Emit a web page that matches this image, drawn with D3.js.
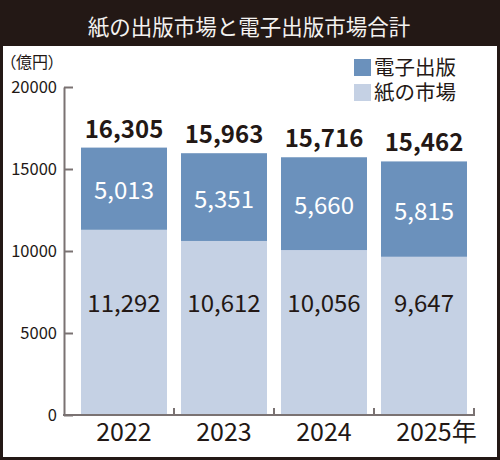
<!DOCTYPE html>
<html><head><meta charset="utf-8">
<script src="https://cdn.jsdelivr.net/npm/d3@7"></script>
<style>
body{margin:0;background:#fff;}
svg{display:block;font-family:"Noto Sans CJK JP","Noto Sans",sans-serif;}
</style></head>
<body>
<svg id="c" width="500" height="460"></svg>
<script>
const title = "紙の出版市場と電子出版市場合計";
const unitLabel = "（億円）";
const years = ["2022","2023","2024","2025"];
const yearSuffix = "年";
const paper = [11292, 10612, 10056, 9647];
const digital = [5013, 5351, 5660, 5815];
const totals = [16305, 15963, 15716, 15462];
const yTicks = [0, 5000, 10000, 15000, 20000];
const seriesNames = ["電子出版", "紙の市場"];

const ink = "#231815", cDigital = "#6b91bc", cPaper = "#c5d1e4", axisGray = "#7a7272";
const svg = d3.select("#c");

// frame and title bar
svg.append("rect").attr("x",0).attr("y",0).attr("width",500).attr("height",46).attr("fill",ink);
svg.append("rect").attr("x",1.5).attr("y",1.5).attr("width",497).attr("height",457)
  .attr("fill","none").attr("stroke",ink).attr("stroke-width",3);
svg.append("text").attr("x",249).attr("y",25).attr("text-anchor","middle")
  .attr("dominant-baseline","central").attr("fill","#f4f2f0").attr("font-size",21.5).text(title);

const y = d3.scaleLinear().domain([0,20000]).range([415,87]);
const x = d3.scaleBand().domain(years).range([74,474]).paddingInner(0.14).paddingOuter(0.07);

// y axis
const yAxis = svg.append("g").attr("transform","translate(64,0)")
  .call(d3.axisLeft(y).tickValues(yTicks).tickSizeInner(-9).tickSizeOuter(0).tickPadding(7).tickFormat(d3.format("d")));
yAxis.select(".domain").attr("stroke",axisGray).attr("stroke-width",2);
yAxis.selectAll(".tick line").attr("stroke",axisGray).attr("stroke-width",2);
yAxis.selectAll(".tick text").attr("fill",ink).attr("font-size",16.5).attr("font-family","Noto Sans CJK JP");

svg.append("text").attr("x",8).attr("y",68).attr("fill",ink).attr("font-size",16)
  .style("font-feature-settings","'palt'").text(unitLabel);

// stacked bars
const data = years.map((yr,i)=>({yr, paper:paper[i], digital:digital[i], total:totals[i]}));
const g = svg.append("g");
g.selectAll("rect.p").data(data).join("rect").attr("class","p")
  .attr("x",d=>x(d.yr)).attr("width",x.bandwidth())
  .attr("y",d=>y(d.paper)).attr("height",d=>y(0)-y(d.paper)).attr("fill",cPaper);
g.selectAll("rect.d").data(data).join("rect").attr("class","d")
  .attr("x",d=>x(d.yr)).attr("width",x.bandwidth())
  .attr("y",d=>y(d.paper+d.digital)).attr("height",d=>y(d.paper)-y(d.paper+d.digital)).attr("fill",cDigital);

const fmt = d3.format(",");
const cx = d => x(d.yr)+x.bandwidth()/2;
g.selectAll("text.tot").data(data).join("text").attr("class","tot")
  .attr("x",cx).attr("y",d=>y(d.total)-10).attr("text-anchor","middle")
  .attr("font-weight","bold").attr("font-size",24).attr("fill",ink).text(d=>fmt(d.total));
g.selectAll("text.dl").data(data).join("text").attr("class","dl")
  .attr("x",cx).attr("y",d=>y(d.paper+d.digital/2)).attr("text-anchor","middle")
  .attr("dominant-baseline","central").attr("font-size",24).attr("fill","#fff").text(d=>fmt(d.digital));
g.selectAll("text.pl").data(data).join("text").attr("class","pl")
  .attr("x",cx).attr("y",y(6900)).attr("text-anchor","middle")
  .attr("dominant-baseline","central").attr("font-size",24).attr("fill",ink).text(d=>fmt(d.paper));

// x axis
const half = x.step()*x.paddingInner()/2;
svg.append("line").attr("x1",63).attr("x2",x(years[years.length-1])+x.bandwidth()+half+1)
  .attr("y1",y(0)).attr("y2",y(0)).attr("stroke",axisGray).attr("stroke-width",2);
const bounds = years.map(d=>x(d)+x.bandwidth()+half);
svg.selectAll("line.xt").data(bounds).join("line").attr("class","xt")
  .attr("x1",d=>d).attr("x2",d=>d).attr("y1",y(0)).attr("y2",y(0)-7)
  .attr("stroke",axisGray).attr("stroke-width",2);
const yl = svg.selectAll("text.yr").data(years).join("text").attr("class","yr")
  .attr("x",d=>x(d)+x.bandwidth()/2).attr("y",441).attr("text-anchor","middle")
  .attr("font-size",25).attr("fill",ink).text(d=>d);
const lastNode = yl.nodes()[years.length-1];
const lw = lastNode.getComputedTextLength();
svg.append("text").attr("x",x(years[years.length-1])+x.bandwidth()/2+lw/2).attr("y",441)
  .attr("font-size",25).attr("fill",ink).text(yearSuffix);

// legend
const leg = svg.append("g");
const legColors = [cDigital, cPaper];
seriesNames.forEach((n,i)=>{
  leg.append("rect").attr("x",354).attr("y",59+i*25).attr("width",17).attr("height",17).attr("fill",legColors[i]);
  leg.append("text").attr("x",374).attr("y",75+i*25)
    .attr("font-family","'Liberation Sans','Noto Sans CJK JP',sans-serif")
    .attr("font-size",20.5).attr("fill",ink).text(n);
});
</script>
</body></html>
